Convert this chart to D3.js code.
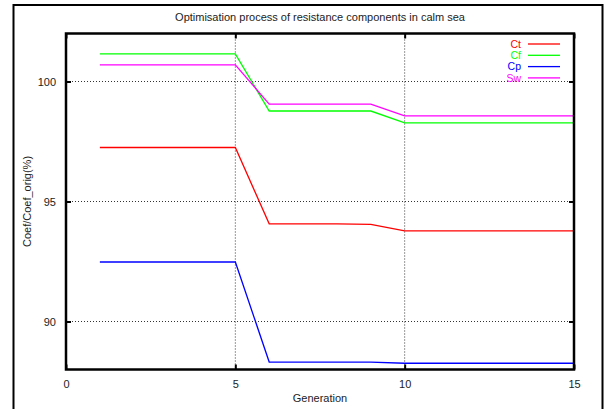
<!DOCTYPE html>
<html>
<head>
<meta charset="utf-8">
<script src="https://cdn.jsdelivr.net/npm/d3@7"></script>
<style>
  body { margin: 0; background: #fff; }
  text { font-family: "Liberation Sans", Arial, sans-serif; }
</style>
</head>
<body>
<div id="chart"></div>
<script>
const width = 605
const height = 409

// data
const generations = [1, 2, 3, 4, 5, 6, 7, 8, 9, 10, 11, 12, 13, 14, 15]
const ct = [97.25, 97.25, 97.25, 97.25, 97.25, 94.07, 94.07, 94.07, 94.05, 93.78, 93.78, 93.78, 93.78, 93.78, 93.78]
const cf = [101.15, 101.15, 101.15, 101.15, 101.15, 98.77, 98.77, 98.77, 98.77, 98.28, 98.28, 98.28, 98.28, 98.28, 98.28]
const cp = [92.48, 92.48, 92.48, 92.48, 92.48, 88.31, 88.31, 88.31, 88.31, 88.26, 88.26, 88.26, 88.26, 88.26, 88.26]
const sw = [100.69, 100.69, 100.69, 100.69, 100.69, 99.06, 99.06, 99.06, 99.06, 98.57, 98.57, 98.57, 98.57, 98.57, 98.57]
const seriesNames = ["Ct", "Cf", "Cp", "Sw"]
const seriesColors = ["#ff0000", "#00ff00", "#0000ff", "#ff00ff"]
const xTicks = [0, 5, 10, 15]
const yTicks = [90, 95, 100]

const series = [ct, cf, cp, sw].map((vals, i) => ({
    name: seriesNames[i],
    color: seriesColors[i],
    points: generations.map((g, j) => ({ x: g, y: vals[j] }))
}))

const margin = { left: 66, right: 31, top: 33.5, bottom: 39.5 }

const x = d3.scaleLinear()
    .domain([0, 15])
    .range([margin.left, width - margin.right])

const y = d3.scaleLinear()
    .domain([88, 102])
    .range([height - margin.bottom, margin.top])

const svg = d3.select("#chart")
    .append("svg")
    .attr("width", width)
    .attr("height", height)

// outer frame
svg.append("rect")
    .attr("x", 13.5)
    .attr("y", 5)
    .attr("width", 589)
    .attr("height", 420)
    .attr("fill", "none")
    .attr("stroke", "#000")
    .attr("stroke-width", 2)

// title
svg.append("text")
    .attr("x", (x(0) + x(15)) / 2)
    .attr("y", 21)
    .attr("text-anchor", "middle")
    .attr("font-size", 11)
    .attr("fill", "#222")
    .text("Optimisation process of resistance components in calm sea")

// grid lines (dotted)
svg.append("g")
    .selectAll("line")
    .data(xTicks.filter(d => d > 0 && d < 15))
    .join("line")
    .attr("x1", d => x(d)).attr("x2", d => x(d))
    .attr("y1", y(102)).attr("y2", y(88))
    .attr("stroke", "#333")
    .attr("stroke-width", 1)
    .attr("stroke-dasharray", "1,2")

svg.append("g")
    .selectAll("line")
    .data(yTicks)
    .join("line")
    .attr("x1", x(0)).attr("x2", x(15))
    .attr("y1", d => y(d)).attr("y2", d => y(d))
    .attr("stroke", "#333")
    .attr("stroke-width", 1)
    .attr("stroke-dasharray", "1,2")

// axes (ticks pointing inward, labels outside)
const xAxis = svg.append("g")
    .attr("transform", `translate(0,${y(88)})`)
    .call(d3.axisBottom(x).tickValues(xTicks).tickSize(-5).tickPadding(11))
const xAxisTop = svg.append("g")
    .attr("transform", `translate(0,${y(102)})`)
    .call(d3.axisTop(x).tickValues(xTicks).tickSize(-5).tickFormat(""))
const yAxis = svg.append("g")
    .attr("transform", `translate(${x(0)},0)`)
    .call(d3.axisLeft(y).tickValues(yTicks).tickSize(-5).tickPadding(10))
const yAxisRight = svg.append("g")
    .attr("transform", `translate(${x(15)},0)`)
    .call(d3.axisRight(y).tickValues(yTicks).tickSize(-5).tickFormat(""))

;[xAxis, xAxisTop, yAxis, yAxisRight].forEach(a => {
    a.select(".domain").remove()
    a.selectAll(".tick line").attr("stroke", "#000").attr("stroke-width", 2)
    a.selectAll(".tick text").attr("font-size", 11).attr("fill", "#222")
        .style("font-family", "'Liberation Sans', Arial, sans-serif")
})

// series lines
const line = d3.line()
    .x(d => x(d.x))
    .y(d => y(d.y))

svg.append("g")
    .selectAll("path")
    .data(series)
    .join("path")
    .attr("d", d => line(d.points))
    .attr("fill", "none")
    .attr("stroke", d => d.color)
    .attr("stroke-width", 1.3)

// plot border
svg.append("rect")
    .attr("x", x(0))
    .attr("y", y(102))
    .attr("width", x(15) - x(0))
    .attr("height", y(88) - y(102))
    .attr("fill", "none")
    .attr("stroke", "#000")
    .attr("stroke-width", 2.5)

// legend
const legend = svg.append("g")
    .selectAll("g")
    .data(series)
    .join("g")
    .attr("transform", (d, i) => `translate(0,${44 + i * 11.3})`)

legend.append("text")
    .attr("x", 521)
    .attr("y", 0)
    .attr("dy", "0.36em")
    .attr("text-anchor", "end")
    .attr("font-size", 10.5)
    .attr("fill", d => d.color)
    .text(d => d.name)

legend.append("line")
    .attr("x1", 528).attr("x2", 560)
    .attr("y1", 0).attr("y2", 0)
    .attr("stroke", d => d.color)
    .attr("stroke-width", 1.3)

// axis titles
svg.append("text")
    .attr("x", (x(0) + x(15)) / 2)
    .attr("y", 402)
    .attr("text-anchor", "middle")
    .attr("font-size", 11)
    .attr("fill", "#222")
    .text("Generation")

svg.append("text")
    .attr("transform", `translate(31,${(y(88) + y(102)) / 2}) rotate(-90)`)
    .attr("text-anchor", "middle")
    .attr("font-size", 11)
    .attr("fill", "#222")
    .text("Coef/Coef_orig(%)")
</script>
</body>
</html>
